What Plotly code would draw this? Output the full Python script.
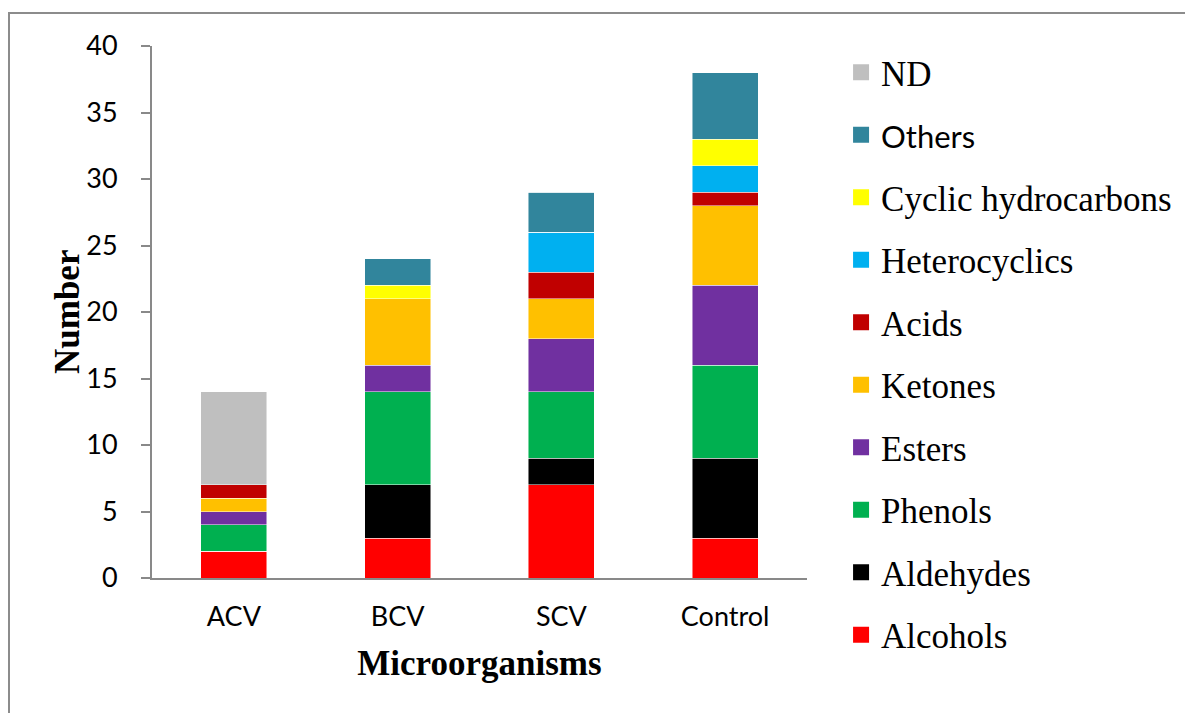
import plotly.graph_objects as go

categories = ["ACV", "BCV", "SCV", "Control"]
series_names = ["Alcohols", "Aldehydes", "Phenols", "Esters", "Ketones", "Acids",
                "Heterocyclics", "Cyclic hydrocarbons", "Others", "ND"]
alcohols = [2, 3, 7, 3]
aldehydes = [0, 4, 2, 6]
phenols = [2, 7, 5, 7]
esters = [1, 2, 4, 6]
ketones = [1, 5, 3, 6]
acids = [1, 0, 2, 1]
heterocyclics = [0, 0, 3, 2]
cyclic_hydrocarbons = [0, 1, 0, 2]
others = [0, 2, 3, 5]
nd = [7, 0, 0, 0]
series_values = [alcohols, aldehydes, phenols, esters, ketones, acids,
                 heterocyclics, cyclic_hydrocarbons, others, nd]
colors = ["#FF0000", "#000000", "#00B050", "#7030A0", "#FFC000", "#C00000",
          "#00B0F0", "#FFFF00", "#31859C", "#BFBFBF"]
y_ticks = [0, 5, 10, 15, 20, 25, 30, 35, 40]

# page has an 8px body margin; figure coordinates are page coordinates minus 8
W, H = 1185, 705
L, R, T, B = 144, 799, 38, 570

fig = go.Figure()
for name, vals, col in zip(series_names, series_values, colors):
    fig.add_trace(go.Bar(
        x=categories, y=vals, name=name, marker_color=col,
        marker_line=dict(color="rgba(255,255,255,0.6)", width=0.8),
        showlegend=False))

# legend proxies, top (ND) to bottom (Alcohols)
for name, col in reversed(list(zip(series_names, colors))):
    label = name
    if name == "Others":
        label = '<span style="font-family:Lato; font-size:31px">Others</span>'
    fig.add_trace(go.Scatter(
        x=[None], y=[None], mode="markers", name=label, legendgroup="lg_" + name,
        marker=dict(symbol="square", size=20, color=col, line=dict(width=0)),
        showlegend=True))

pw = R - L
ph = B - T
fig.update_layout(
    width=W, height=H,
    margin=dict(l=L, r=W - R, t=T, b=H - B, pad=0, autoexpand=False),
    paper_bgcolor="white", plot_bgcolor="white",
    barmode="stack", bargap=0.597,
    showlegend=True,
    legend=dict(
        x=1.052, y=1 + (T - 35) / ph, xanchor="left", yanchor="top",
        traceorder="grouped", tracegroupgap=14, maxheight=700,
        font=dict(family="Liberation Serif", size=35, color="black"),
        bgcolor="rgba(0,0,0,0)", itemsizing="trace",
    ),
    xaxis=dict(
        type="category", showline=True, linecolor="#898989", linewidth=2,
        ticks="", showgrid=False, automargin=False,
        tickfont=dict(family="Lato", size=27, color="black"),
        ticklabelstandoff=14,
        title=dict(text="<b>Microorganisms</b>", standoff=19,
                   font=dict(family="Liberation Serif", size=35, color="black")),
    ),
    yaxis=dict(
        range=[0, 40], tickvals=y_ticks, showline=True, linecolor="#898989",
        linewidth=2, ticks="outside", ticklen=9, tickcolor="#898989", tickwidth=2,
        showgrid=False, zeroline=False, automargin=False,
        tickfont=dict(family="Lato", size=27, color="black"),
        ticklabelstandoff=18,
    ),
    annotations=[dict(
        text="<b>Number</b>", textangle=-90, showarrow=False,
        xref="paper", yref="paper", x=(59 - L) / pw, y=(B - 304) / ph,
        xanchor="center", yanchor="middle",
        font=dict(family="Liberation Serif", size=35, color="black"))],
)

# outer frame
fig.add_shape(type="rect", xref="paper", yref="paper",
              x0=(1 - L) / pw, x1=3, y0=-3, y1=1 + (T - 5) / ph,
              line=dict(color="#8c8c8c", width=2), fillcolor="rgba(0,0,0,0)", layer="below")

fig.write_html("out.html")
